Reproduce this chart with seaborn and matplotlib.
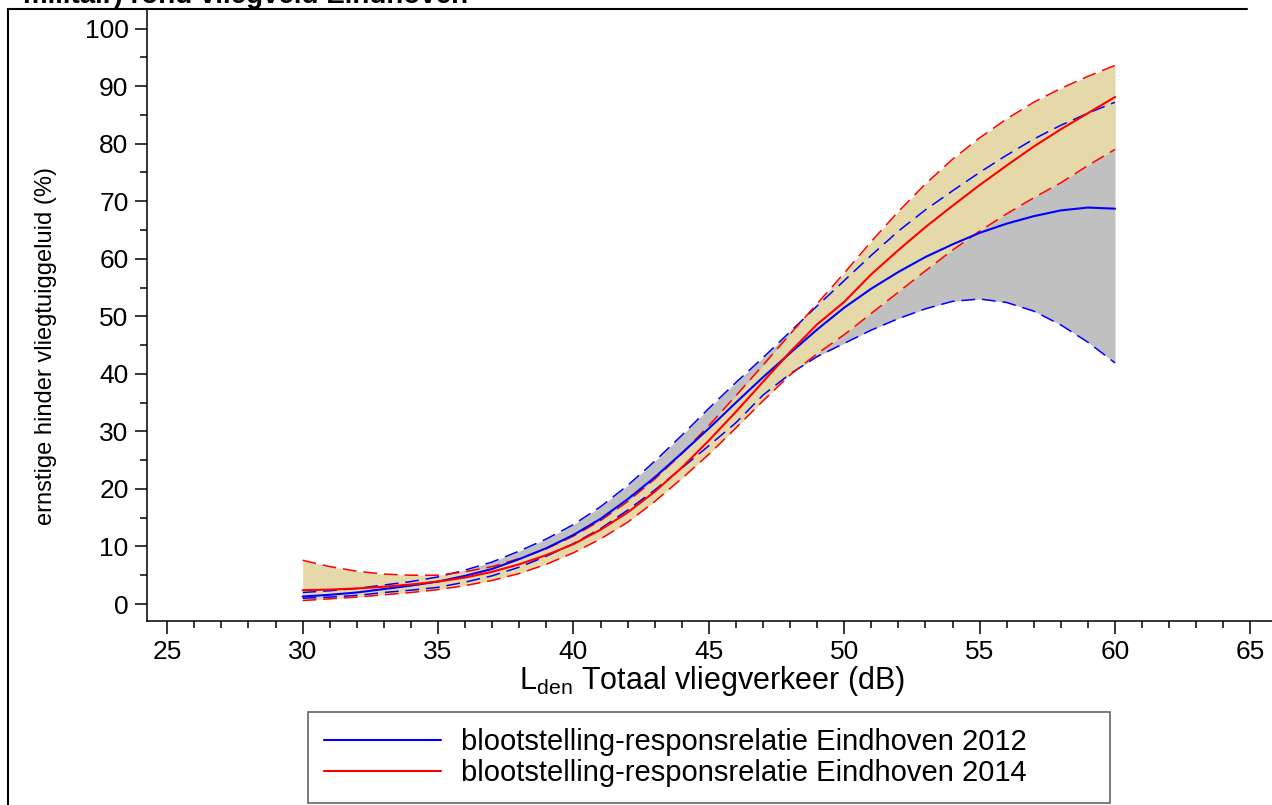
import numpy as np
import pandas as pd
import matplotlib
matplotlib.use("Agg")
import matplotlib.pyplot as plt
from matplotlib.lines import Line2D
from matplotlib.ticker import MultipleLocator
import seaborn as sns

# Lden (dB) and % ernstig gehinderden
lden = list(range(30, 61))

# Eindhoven 2012 (blue)
blue_mean = [1.3, 1.6, 2.0, 2.6, 3.2, 3.9, 4.9, 6.1, 7.8, 9.7, 12.0, 14.8, 18.2, 22.0, 26.2, 30.5,
             35.0, 39.4, 43.6, 47.7, 51.5, 54.8, 57.7, 60.3, 62.5, 64.5, 66.1, 67.4, 68.4, 68.9, 68.7]
blue_low = [1.0, 1.2, 1.5, 2.0, 2.4, 2.9, 3.8, 4.9, 6.4, 8.3, 10.5, 13.1, 16.3, 19.8, 23.6, 27.5,
            31.5, 36.3, 40.0, 43.0, 45.3, 47.6, 49.6, 51.3, 52.6, 53.0, 52.4, 50.9, 48.5, 45.5, 41.9]
blue_high = [2.0, 2.3, 2.7, 3.3, 3.9, 4.7, 5.9, 7.3, 9.2, 11.3, 13.8, 16.9, 20.6, 24.8, 29.3, 34.0,
             38.5, 42.8, 47.3, 51.8, 56.2, 60.6, 64.8, 68.5, 71.8, 75.0, 78.0, 80.8, 83.2, 85.3, 87.2]

# Eindhoven 2014 (red)
red_mean = [2.4, 2.5, 2.7, 3.0, 3.4, 3.9, 4.6, 5.6, 6.9, 8.5, 10.4, 12.9, 15.9, 19.5, 23.7, 28.4,
            33.4, 38.6, 43.8, 48.6, 52.5, 57.3, 61.5, 65.5, 69.2, 72.8, 76.2, 79.5, 82.5, 85.3, 88.1]
red_low = [0.6, 0.9, 1.2, 1.6, 2.0, 2.5, 3.2, 4.1, 5.3, 6.9, 8.9, 11.3, 14.2, 17.8, 21.8, 26.0,
           30.6, 35.3, 39.8, 43.5, 46.8, 50.5, 54.2, 57.9, 61.5, 64.8, 67.8, 70.6, 73.2, 76.2, 79.0]
red_high = [7.6, 6.5, 5.7, 5.2, 5.0, 5.0, 5.6, 6.5, 7.9, 9.6, 11.8, 14.5, 17.8, 21.7, 26.1, 31.0,
            36.2, 41.5, 46.9, 52.2, 57.5, 63.0, 68.2, 73.0, 77.3, 81.0, 84.3, 87.2, 89.6, 91.7, 93.6]

labels = ["blootstelling-responsrelatie Eindhoven 2012",
          "blootstelling-responsrelatie Eindhoven 2014"]

df = pd.DataFrame({"lden": lden,
                   "blue_mean": blue_mean, "blue_low": blue_low, "blue_high": blue_high,
                   "red_mean": red_mean, "red_low": red_low, "red_high": red_high})

sns.set_style("ticks")
plt.rcParams["font.family"] = ["Liberation Sans", "DejaVu Sans"]
plt.rcParams["mathtext.fontset"] = "custom"
plt.rcParams["mathtext.rm"] = "Liberation Sans"
for k in ["text.color", "axes.labelcolor", "xtick.color", "ytick.color"]:
    plt.rcParams[k] = "black"

fig = plt.figure(figsize=(12.72, 8.05), dpi=100)
ax = fig.add_axes([0.1153, 0.2286, 0.889, 0.7602])

# confidence bands
ax.fill_between(df["lden"], df["blue_low"], df["blue_high"], color="#c0c0c0", lw=0)
ax.fill_between(df["lden"], df["red_low"], df["red_high"], color="#e5d9a9", lw=0)

dash = (0, (9, 4.5))
for col in ["blue_low", "blue_high"]:
    sns.lineplot(data=df, x="lden", y=col, color="#0000ff", lw=1.1, linestyle=dash, ax=ax)
for col in ["red_low", "red_high"]:
    sns.lineplot(data=df, x="lden", y=col, color="#ff0000", lw=1.1, linestyle=dash, ax=ax)
sns.lineplot(data=df, x="lden", y="blue_mean", color="#0000ff", lw=1.5, ax=ax)
sns.lineplot(data=df, x="lden", y="red_mean", color="#ff0000", lw=1.5, ax=ax)

ax.set_xlim(24.24, 66)
ax.set_ylim(-2.95, 103.4)
ax.xaxis.set_major_locator(MultipleLocator(5))
ax.xaxis.set_minor_locator(MultipleLocator(1))
ax.yaxis.set_major_locator(MultipleLocator(10))
ax.yaxis.set_minor_locator(MultipleLocator(5))
ax.tick_params(axis="both", which="major", length=9, width=1.1, color="black")
ax.tick_params(axis="both", which="minor", length=5, width=1.1, color="black")
ax.tick_params(axis="x", which="major", labelsize=19, pad=5)
ax.tick_params(axis="y", which="major", labelsize=19, pad=4)
sns.despine(ax=ax)
for s in ["left", "bottom"]:
    ax.spines[s].set_linewidth(1.1)
    ax.spines[s].set_color("black")

ax.set_xlabel(r"L$_{\mathrm{den}}$ Totaal vliegverkeer (dB)", fontsize=22, labelpad=0)
ax.set_ylabel("ernstige hinder vliegtuiggeluid (%)", fontsize=17)
ax.yaxis.set_label_coords(-0.079, 0.449)

# legend below the plot
handles = [Line2D([], [], color="#0000ff", lw=1.5), Line2D([], [], color="#ff0000", lw=1.5)]
leg = fig.legend(handles, labels, loc="lower left", mode="expand",
                 bbox_to_anchor=(0.2421, 0.0025, 0.6305, 0.113),
                 fontsize=21, handlelength=4.0, handletextpad=0.7, labelspacing=0.1,
                 borderpad=0.55, borderaxespad=0, frameon=True, fancybox=False)
leg.get_frame().set_edgecolor("#404040")
leg.get_frame().set_linewidth(1.2)

# cut-off page title and page frame
fig.text(23 / 1272, 0.9963, "militair) rond vliegveld Eindhoven", fontsize=20,
         fontweight="bold", va="baseline", ha="left")
fig.add_artist(Line2D([8.3 / 1272, 1247 / 1272], [1 - 9.3 / 805, 1 - 9.3 / 805],
                      color="black", lw=1.5, transform=fig.transFigure))
fig.add_artist(Line2D([8.3 / 1272, 8.3 / 1272], [1 - 9.3 / 805, 0],
                      color="black", lw=1.5, transform=fig.transFigure))

fig.savefig("out.png", dpi=100)
